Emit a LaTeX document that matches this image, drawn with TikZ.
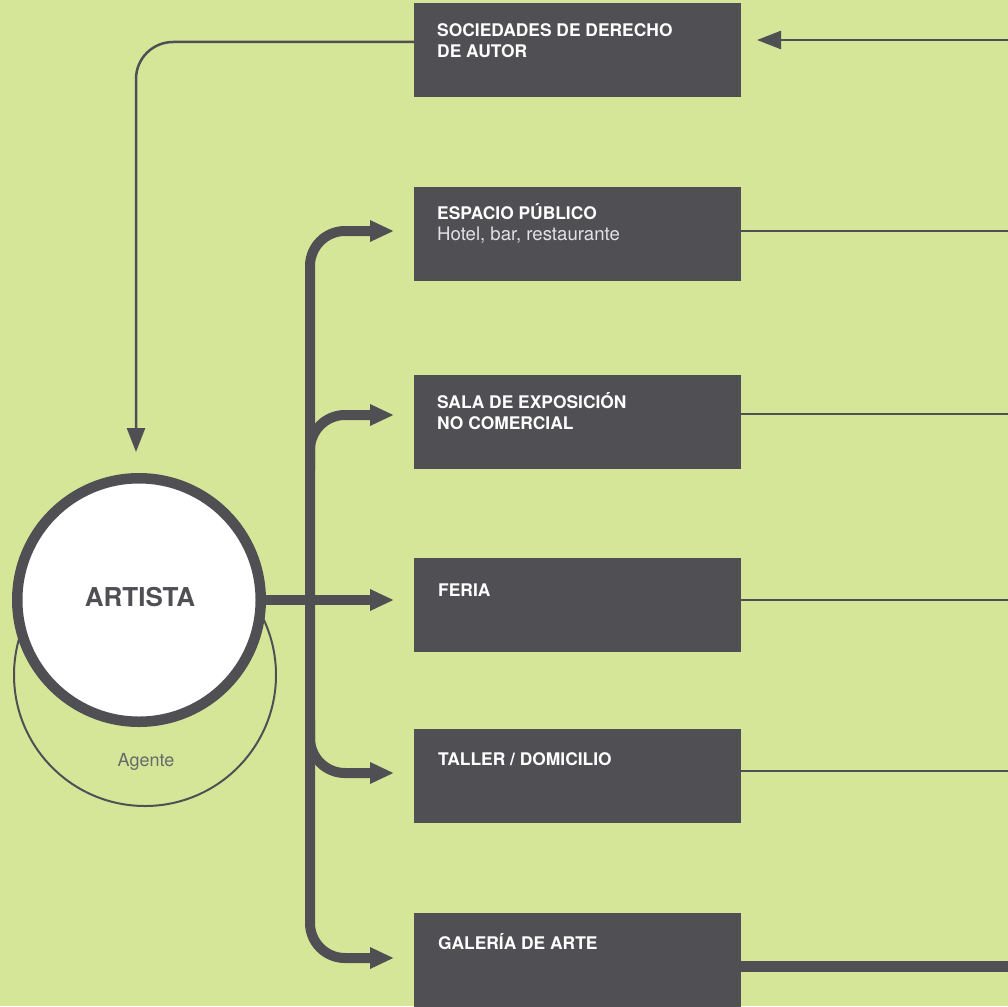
\documentclass[tikz,border=0pt]{standalone}
\usepackage{fontspec}
\setmainfont{TeX Gyre Heros}
\usetikzlibrary{arrows.meta}
\definecolor{bg}{RGB}{213,230,153}
\definecolor{dk}{RGB}{80,79,84}
\definecolor{lt}{RGB}{226,226,228}
\definecolor{ag}{RGB}{105,105,108}
\begin{document}
\begin{tikzpicture}[x=1pt,y=-1pt,
  box/.style={fill=dk,draw=none,minimum width=327pt,minimum height=94pt,inner sep=0pt,outer sep=0pt},
  ttl/.style={anchor=base west,inner sep=0pt,text=white,font=\fontsize{17.4}{21}\selectfont\bfseries},
  sub/.style={anchor=base west,inner sep=0pt,text=lt,font=\fontsize{18.6}{21}\selectfont},
  thinln/.style={draw=dk,line width=2.5pt},
  fatln/.style={draw=dk,line width=10pt},
  bigtip/.style={-{Triangle[length=24pt,width=20pt]}},
  smalltip/.style={-{Triangle[length=24pt,width=18pt]}},
]
\fill[bg] (0,0) rectangle (1008,1006);
\useasboundingbox (0,0) rectangle (1008,1006);

% boxes
\node[box] (b1) at (577.5,50) {};
\node[box] (b2) at (577.5,234) {};
\node[box] (b3) at (577.5,422) {};
\node[box] (b4) at (577.5,605) {};
\node[box] (b5) at (577.5,776) {};
\node[box] (b6) at (577.5,960) {};

% texts
\node[ttl] (t1a) at (437,36.5) {SOCIEDADES DE DERECHO};
\node[ttl] (t1b) at (437,58) {DE AUTOR};
\node[ttl] (t2a) at (437,219.5) {ESPACIO PÚBLICO};
\node[sub] (t2b) at (437,240.5) {Hotel, bar, restaurante};
\node[ttl] (t3a) at (437,408) {SALA DE EXPOSICIÓN};
\node[ttl] (t3b) at (437,429) {NO COMERCIAL};
\node[ttl] (t4a) at (438,596) {FERIA};
\node[ttl] (t5a) at (438,765) {TALLER / DOMICILIO};
\node[ttl] (t6a) at (438,949) {GALERÍA DE ARTE};

% circles
\node[circle,draw=dk,line width=2pt,minimum size=262pt,inner sep=0pt] (agc) at (145,675) {};
\node[text=ag,font=\fontsize{18}{20}\selectfont,inner sep=0pt] (agt) at (146,762) {Agente};
\node[circle,draw=dk,line width=10.5pt,fill=white,minimum size=243.5pt,inner sep=0pt] (art) at (139,600) {};
\node[text=dk,font=\fontsize{26}{30}\selectfont\bfseries,inner sep=0pt] (artt) at (140,597) {ARTISTA};

% arrow end coordinates
\coordinate (a2) at (394,231);
\coordinate (a3) at (394,415);
\coordinate (a4) at (394,600);
\coordinate (a5) at (394,773);
\coordinate (a6) at (394,958);
\coordinate (s3) at (310,470);
\coordinate (s5) at (310,720);

% trunk and branches
\draw[fatln,{Triangle[length=24pt,width=20pt]}-{Triangle[length=24pt,width=20pt]},rounded corners=35pt]
  (a2) -- (310,231) -- (310,958) -- (a6);
\draw[fatln,bigtip,rounded corners=35pt] (s3) |- (a3);
\draw[fatln,bigtip,rounded corners=35pt] (s5) |- (a5);
\draw[fatln,bigtip] (art.east) -- (a4);

% top connectors
\coordinate (r1) at (1008,40);
\coordinate (k1) at (757,40);
\coordinate (d1) at (136,452);
\draw[thinln,smalltip] (r1) -- (k1);
\draw[thinln,smalltip,rounded corners=37pt] ([yshift=8pt]b1.west) -| (d1);

% right connectors
\coordinate (r2) at (1008,231);
\coordinate (r3) at (1008,414);
\coordinate (r4) at (1008,600);
\coordinate (r5) at (1008,771);
\coordinate (r6) at (1008,966);
\draw[thinln] (b2.east |- r2) -- (r2);
\draw[thinln] (b3.east |- r3) -- (r3);
\draw[thinln] (b4.east |- r4) -- (r4);
\draw[thinln] (b5.east |- r5) -- (r5);
\draw[draw=dk,line width=11pt] (b6.east |- r6) -- (r6);
\end{tikzpicture}
\end{document}
